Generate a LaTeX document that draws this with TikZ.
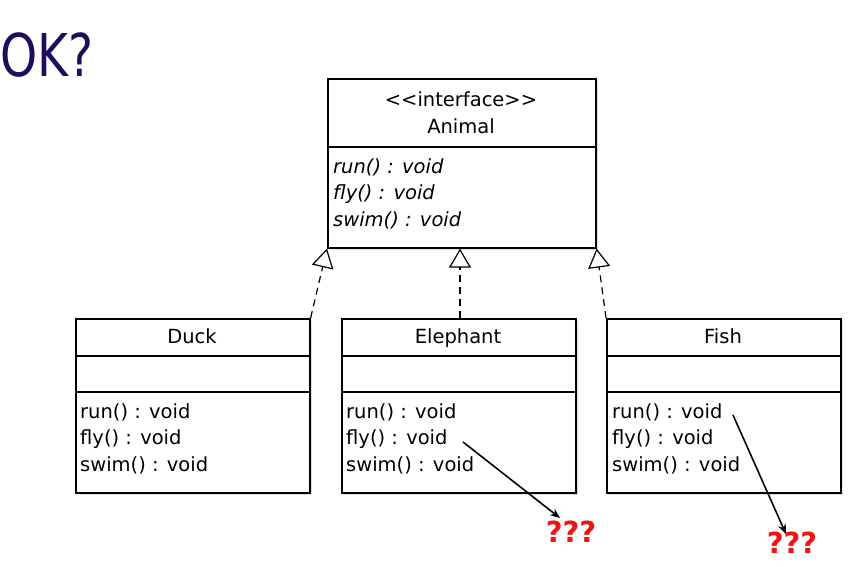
\documentclass[tikz,border=0pt]{standalone}
\usepackage{fontspec}
\setmainfont{DejaVu Sans}
\newfontfamily\umlfont{DejaVu Sans}
\usetikzlibrary{arrows.meta,shadows}
\definecolor{okblue}{RGB}{32,12,92}
\definecolor{qred}{RGB}{240,20,20}

\begin{document}
\begin{tikzpicture}[
    x=1pt, y=-1pt,
    box/.style={draw, line width=1.6pt, fill=white, inner sep=0pt, anchor=north west,
      drop shadow={shadow xshift=2pt, shadow yshift=-2pt, opacity=0.25, fill=gray}},
    divider/.style={line width=1.6pt},
    title/.style={anchor=base, inner sep=0pt, font=\umlfont\fontsize{19.5}{24}\selectfont},
    member/.style={anchor=base west, inner sep=0pt, font=\umlfont\fontsize{19.5}{24}\selectfont},
    realize/.style={line width=1.2pt, dash pattern=on 7pt off 5pt,
      -{Triangle[length=19pt, width=22pt, fill=white, line width=1.2pt]}},
    pointer/.style={line width=1.6pt, -{Stealth[length=10pt, width=8pt]}},
    question/.style={text=qred, inner sep=2pt, font=\bfseries\fontsize{29}{30}\selectfont},
  ]
  \useasboundingbox (0,0) rectangle (863,567);

  \node[anchor=base west, inner sep=0pt, text=okblue, xscale=0.8,
    font=\fontsize{59}{60}\selectfont] (ok) at (0,77) {OK?};

  % interface
  \node[box, minimum width=268pt, minimum height=169pt] (animal) at (327,78) {};
  \draw[divider] (327,147) -- (595,147);
  \node[title] (animal-stereo) at (461,107) {<\kern0pt<interface>\kern0pt>};
  \node[title] (animal-name) at (461,134) {Animal};
  \node[member] (animal-run) at (333,174) {\itshape run() : void};
  \node[member] (animal-fly) at (333,200) {\itshape fly() : void};
  \node[member] (animal-swim) at (333,227) {\itshape swim() : void};

  % Duck
  \node[box, minimum width=234pt, minimum height=174pt] (duck) at (75,318) {};
  \draw[divider] (75,356) -- (309,356);
  \draw[divider] (75,392) -- (309,392);
  \node[title] (duck-name) at (192,343) {Duck};
  \node[member] (duck-run) at (80,418) {run() : void};
  \node[member] (duck-fly) at (80,444) {fly() : void};
  \node[member] (duck-swim) at (80,471) {swim() : void};

  % Elephant
  \node[box, minimum width=234pt, minimum height=174pt] (elephant) at (341,318) {};
  \draw[divider] (341,356) -- (575,356);
  \draw[divider] (341,392) -- (575,392);
  \node[title] (elephant-name) at (458,343) {Elephant};
  \node[member] (elephant-run) at (346,418) {run() : void};
  \node[member] (elephant-fly) at (346,444) {fly() : void};
  \node[member] (elephant-swim) at (346,471) {swim() : void};

  % Fish
  \node[box, minimum width=234pt, minimum height=174pt] (fish) at (606,318) {};
  \draw[divider] (606,356) -- (840,356);
  \draw[divider] (606,392) -- (840,392);
  \node[title] (fish-name) at (723,343) {Fish};
  \node[member] (fish-run) at (612,418) {run() : void};
  \node[member] (fish-fly) at (612,444) {fly() : void};
  \node[member] (fish-swim) at (612,471) {swim() : void};

  % realizations
  \draw[realize] (duck.north east) -- (animal.south west);
  \draw[realize] (460,318) coordinate (elephant-top) -- (elephant-top |- animal.south);
  \draw[realize] (fish.north west) -- (animal.south east);

  % question marks
  \node[question] (q-elephant) at (571,532) {???};
  \node[question] (q-fish) at (792,543) {???};
  \coordinate (elephant-fly-end) at (463,442);
  \coordinate (fish-run-end) at (733,415);
  \draw[pointer] (elephant-fly-end) -- ([xshift=-11pt,yshift=1pt]q-elephant.north);
  \draw[pointer] (fish-run-end) -- ([xshift=-6pt,yshift=-4pt]q-fish.north);
\end{tikzpicture}
\end{document}
